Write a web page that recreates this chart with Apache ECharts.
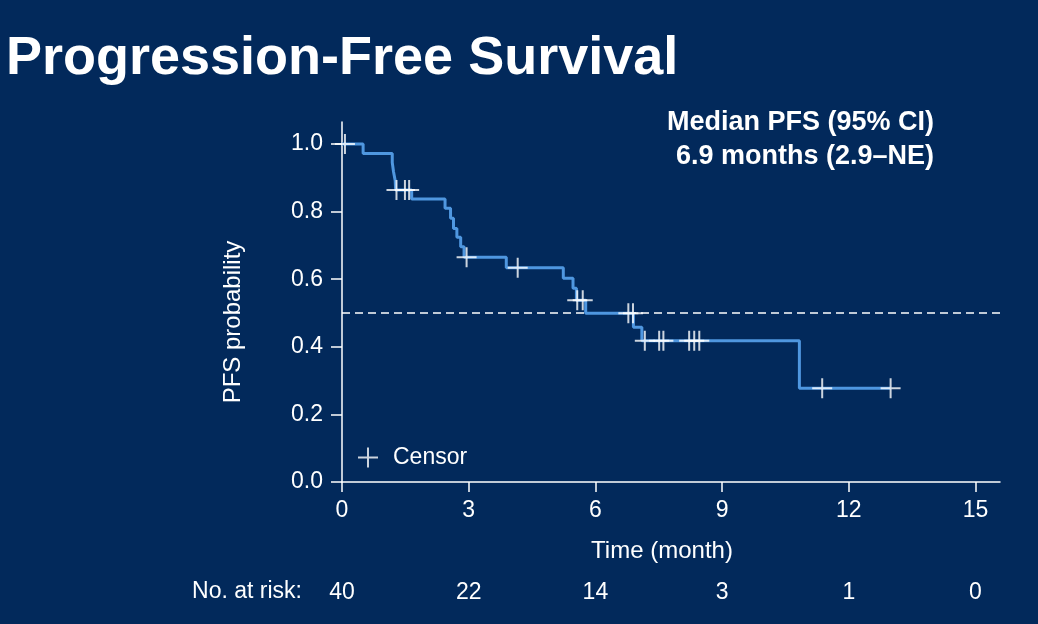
<!DOCTYPE html>
<html><head><meta charset="utf-8">
<script src="https://cdn.jsdelivr.net/npm/echarts@6/dist/echarts.min.js"></script>
<style>html,body{margin:0;padding:0;background:#02295b;}#c{width:1038px;height:624px;}</style>
</head><body><div id="c"></div>
<script>
// Kaplan-Meier step points (time in months, survival after event)
const eventTimes = [0, 0.50, 1.19, 1.22, 1.26, 1.27, 1.65, 2.44, 2.57, 2.64, 2.72, 2.81, 2.89, 3.89, 5.24, 5.47, 5.55, 5.77, 6.90, 7.10, 10.83, 12.99];
const survival   = [1.0, 0.972, 0.945, 0.918, 0.891, 0.864, 0.837, 0.810, 0.780, 0.750, 0.724, 0.696, 0.665, 0.634, 0.603, 0.573, 0.538, 0.499, 0.458, 0.418, 0.277, 0.277];
// Censored observations
const censorTimes = [0.07, 1.29, 1.49, 1.59, 2.95, 4.16, 5.57, 5.70, 6.78, 6.89, 7.17, 7.51, 7.61, 8.22, 8.34, 8.46, 11.37, 12.99];
const censorSurv  = [1.0, 0.864, 0.864, 0.864, 0.665, 0.634, 0.538, 0.538, 0.499, 0.499, 0.418, 0.418, 0.418, 0.418, 0.418, 0.418, 0.277, 0.277];
// Ticks
const xTicks = [0, 3, 6, 9, 12, 15];
const yTicks = [0, 0.2, 0.4, 0.6, 0.8, 1.0];
// Number at risk
const riskTimes  = [0, 3, 6, 9, 12, 15];
const riskCounts = [40, 22, 14, 3, 1, 0];
const medianLevel = 0.5;
const xMax = 15.58, yMax = 1.065;

const FONT = 'Liberation Sans, Arial, sans-serif';
const plusPath = 'path://M9,0H11V9H20V11H11V20H9V11H0V9H9Z';

const kmData = eventTimes.map((t, i) => [t, survival[i]]);
const censorData = censorTimes.map((t, i) => [t, censorSurv[i]]);

const chart = echarts.init(document.getElementById('c'), null, {renderer: 'canvas'});
const option = {
  backgroundColor: '#02295b',
  animation: false,
  textStyle: {fontFamily: FONT},
  grid: {left: 342, right: 38, top: 122, bottom: 142, containLabel: false, outerBoundsMode: 'none'},
  xAxis: [{
    type: 'value', min: 0, max: xMax,
    axisLine: {lineStyle: {color: '#fff', width: 1.5}},
    axisTick: {customValues: xTicks, length: 10, lineStyle: {color: '#fff', width: 1.5}},
    axisLabel: {customValues: xTicks, color: '#fff', fontSize: 23, margin: 17, fontFamily: FONT},
    splitLine: {show: false}
  }, {
    type: 'value', min: 0, max: xMax, position: 'bottom', offset: 91,
    axisLine: {show: false}, axisTick: {show: false},
    axisLabel: {customValues: riskTimes, color: '#fff', fontSize: 23, margin: 8, fontFamily: FONT,
      formatter: v => String(riskCounts[riskTimes.indexOf(v)])},
    splitLine: {show: false}
  }],
  yAxis: {
    type: 'value', min: 0, max: yMax,
    axisLine: {show: true, lineStyle: {color: '#fff', width: 1.5}},
    axisTick: {show: true, customValues: yTicks, length: 11, lineStyle: {color: '#fff', width: 1.5}},
    axisLabel: {customValues: yTicks, color: '#fff', fontSize: 23, margin: 19, fontFamily: FONT,
      formatter: v => v.toFixed(1)},
    splitLine: {show: false}
  },
  legend: {
    data: [{name: 'Censor', icon: plusPath}],
    left: 353, top: 441, itemWidth: 20, itemHeight: 20, selectedMode: false,
    textStyle: {color: '#fff', fontSize: 23, fontFamily: FONT, padding: [0, 0, 0, 10]}
  },
  series: [{
    name: 'median', type: 'line', z: 1, silent: true, symbol: 'none',
    data: [[0, medianLevel], [xMax, medianLevel]],
    lineStyle: {color: '#fff', width: 1.5, type: [8, 5]}
  }, {
    name: 'PFS', type: 'line', z: 3, step: 'end', symbol: 'none',
    data: kmData,
    lineStyle: {color: '#4f97e0', width: 3}
  }, {
    name: 'Censor', type: 'scatter', z: 5,
    symbol: plusPath, symbolSize: 20,
    itemStyle: {color: '#ffffff'},
    data: censorData
  }],
  graphic: [
    {type: 'text', left: 6, top: 32, style: {text: 'Progression-Free Survival', fill: '#fff', font: 'bold 54px ' + FONT}},
    {type: 'text', x: 934, y: 123, style: {text: 'Median PFS (95% CI)', fill: '#fff', font: 'bold 27px ' + FONT, textAlign: 'right', textVerticalAlign: 'middle'}},
    {type: 'text', x: 934, y: 157, style: {text: '6.9 months (2.9–NE)', fill: '#fff', font: 'bold 27px ' + FONT, textAlign: 'right', textVerticalAlign: 'middle'}},
    {type: 'text', x: 233, y: 322, rotation: Math.PI / 2, style: {text: 'PFS probability', fill: '#fff', font: '24px ' + FONT, textAlign: 'center', textVerticalAlign: 'middle'}},
    {type: 'text', x: 662, y: 551, style: {text: 'Time (month)', fill: '#fff', font: '24px ' + FONT, textAlign: 'center', textVerticalAlign: 'middle'}},
    {type: 'text', x: 302, y: 592, style: {text: 'No. at risk:', fill: '#fff', font: '23px ' + FONT, textAlign: 'right', textVerticalAlign: 'middle'}}
  ]
};
chart.setOption(option);
</script></body></html>
